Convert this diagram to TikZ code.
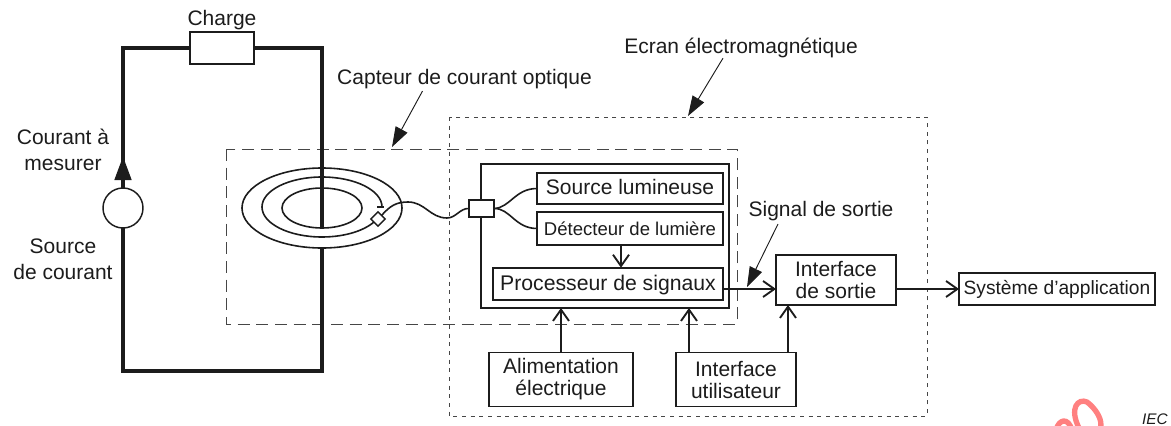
\documentclass[tikz,border=0pt]{standalone}
\usepackage{fontspec}
\setmainfont{Liberation Sans}
\usepackage{xcolor}
\usetikzlibrary{arrows.meta, positioning}
\definecolor{miTinta}{RGB}{28, 28, 28}
\definecolor{miGris}{RGB}{70, 70, 70}
\definecolor{miSello}{RGB}{255, 128, 128}

\begin{document}
\begin{tikzpicture}[
  x=0.75pt, y=-0.75pt,
  label/.style={inner sep=0pt, align=center, text=miTinta, font=\fontsize{15.75}{19.5}\selectfont},
  box/.style={draw=miTinta, line width=1.3pt, fill=white, inner sep=0pt, outer sep=0pt, align=center,
              text=miTinta, font=\fontsize{15.75}{16.5}\selectfont},
  arrow/.style={-{Straight Barb[length=8.5pt,width=12pt]}, line width=1.4pt, miTinta},
  leader/.style={-{Triangle[length=15pt,width=10pt]}, line width=0.7pt, miTinta},
  wire/.style={line width=3.4pt, miTinta},
  fibre/.style={line width=1.2pt, miTinta},
  sensorline/.style={line width=0.7pt, miGris, dash pattern=on 9pt off 5pt},
  shieldline/.style={line width=0.7pt, miGris, dash pattern=on 3pt off 3.5pt},
  stamp/.style={line width=4pt, miSello, line cap=round}
]
\useasboundingbox (0,0) rectangle (1171,425);

\draw[sensorline] (226,149) rectangle (737,324);
\draw[shieldline] (449,117) rectangle (927,416);

\node[label] (chargetxt) at (222,20) {Charge};
\node[label] (capteur) at (464.5,79) {Capteur de courant optique};
\node[label] (ecran) at (741,48) {Ecran électromagnétique};
\node[label] (signal) at (821,211) {Signal de sortie};
\node[label] (courant) at (63,150) {Courant à\\mesurer};
\node[label] (srclabel) at (63,259) {Source\\de courant};
\node[label, anchor=base east, font=\fontsize{11.5}{12}\itshape] (iec) at (1168,424) {IEC};

\node[box, line width=1pt, minimum width=48pt, minimum height=24pt] (charge) at (222,48) {};
\node[box, circle, line width=1.1pt, minimum size=30pt] (supply) at (123,208) {};
\coordinate (wirein) at (322,228);
\coordinate (wireout) at (322,248);
\coordinate (wirelow) at (322,371);
\coordinate (wiretip) at (123,156);

\draw[wire] (supply.north) |- (charge.west);
\draw[wire] (charge.east) -| (wirein);
\draw[wire] (wireout) -- (wirelow) -| (supply.south);
\draw[wire, -{Triangle[length=18pt,width=12pt]}] (supply.north) -- (wiretip);

\draw[fibre] (322,208) ellipse [x radius=80, y radius=40];
\draw[fibre] (322,208) ellipse [x radius=40, y radius=20];
\coordinate (coilend) at (382,207);
\draw[fibre] (coilend) arc [start angle=0, end angle=-336, x radius=60, y radius=30];
\draw[fibre] (377,207) -- (coilend) -- (384,207);
\node[box, line width=1.1pt, rotate=45, minimum size=7.5pt] (head) at (378,219) {};

\node[box, minimum width=186pt, minimum height=108pt] (unit) at (605,236) {};
\node[box, minimum width=139.5pt, minimum height=23.25pt, text height=11.4pt, text depth=2pt] (light) at (630,188.5) {Source lumineuse};
\node[box, below=6pt of light, minimum width=139.5pt, minimum height=24.75pt,
      font=\fontsize{13.9}{15}\selectfont] (detect) {Détecteur de lumière};
\node[box, below left=17pt and 0pt of detect.south east, minimum width=172.5pt, minimum height=24pt,
      text height=12pt, text depth=2pt, font=\fontsize{15.9}{18}\selectfont] (proc) {Processeur de signaux};
\node[box, minimum width=18.75pt, minimum height=12.75pt] (coupler) at (481.5,208.5) {};

\node[box, minimum width=108pt, minimum height=40.5pt] (alim) at (561,379.5) {Alimentation\\électrique};
\node[box, minimum width=90pt, minimum height=40.5pt] (user) at (736,379.5) {Interface\\utilisateur};
\node[box, minimum width=90pt, minimum height=37.5pt] (output) at (836,280) {Interface\\de sortie};
\node[box, anchor=west, minimum width=147pt, minimum height=24pt,
      font=\fontsize{14.4}{16}\selectfont] (appli) at (959,289) {Système d’application};

\draw[fibre] (head.east) .. controls (390,206) and (396,202) .. (408,202)
  .. controls (425,202) and (430,218) .. (447,218) .. controls (456,218) and (460,208) .. (coupler.west);
\draw[fibre] (coupler.east) .. controls (510,208) and (515,188.5) .. (light.west);
\draw[fibre] (coupler.east) .. controls (510,208) and (515,228.5) .. (detect.west);

\draw[arrow] (detect.south -| 621,0) -- (proc.north -| 621,0);
\draw[arrow] (alim.north) -- (alim.north |- unit.south);
\draw[arrow] ([xshift=-35.25pt]user.north) -- ([xshift=-35.25pt]user.north |- unit.south);
\draw[arrow] ([xshift=39pt]user.north) -- ([xshift=39pt]user.north |- output.south);
\draw[arrow] (proc.east |- appli.west) -- (output.west |- appli.west);
\draw[arrow] (output.east |- appli.west) -- (appli.west);

\coordinate (capteurtip) at (392,147);
\coordinate (ecrantip) at (688,116);
\coordinate (signaltip) at (747,287);
\draw[leader] ([shift={(-42,2)}]capteur.south) -- (capteurtip);
\draw[leader] ([shift={(-18,0)}]ecran.south) -- (ecrantip);
\draw[leader] ([shift={(-43,3)}]signal.south) -- (signaltip);

\draw[stamp] (1079,428) .. controls (1069,408) and (1078,398) .. (1087,402) .. controls (1095,408) and (1104,420) .. (1100,430);
\draw[stamp] (1056,430) .. controls (1059,419) and (1068,417) .. (1072,430);
\end{tikzpicture}
\end{document}
